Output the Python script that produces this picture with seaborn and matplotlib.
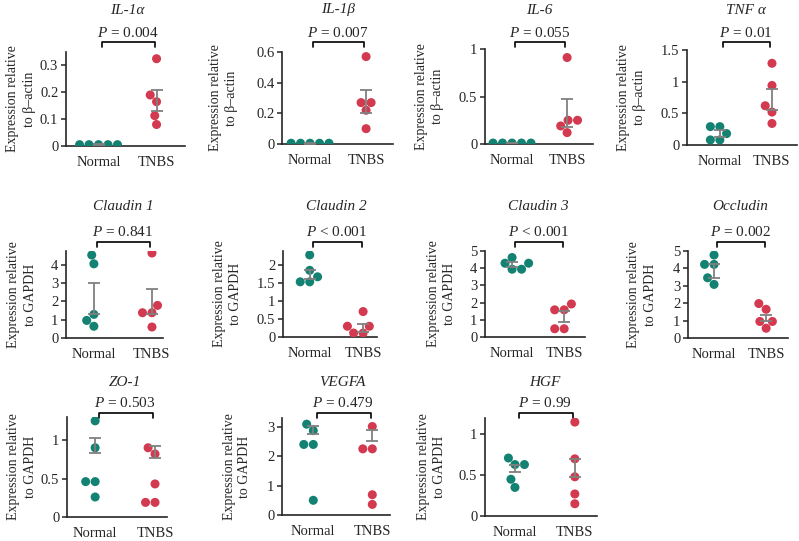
import matplotlib
matplotlib.use("Agg")
import matplotlib.pyplot as plt
import matplotlib.transforms as mtransforms
import pandas as pd
import seaborn as sns

# ---------------- data ----------------
groups = ["Normal", "TNBS"]

il1a_normal = [0.005, 0.005, 0.005, 0.005, 0.005]
il1a_tnbs = [0.325, 0.19, 0.165, 0.113, 0.08]
il1a_err = [(0.003, 0.007), (0.13, 0.21)]

il1b_normal = [0.005, 0.005, 0.005, 0.005, 0.005]
il1b_tnbs = [0.57, 0.27, 0.27, 0.22, 0.10]
il1b_err = [(0.003, 0.008), (0.20, 0.35)]

il6_normal = [0.01, 0.01, 0.01, 0.01, 0.01]
il6_tnbs = [0.91, 0.25, 0.25, 0.19, 0.12]
il6_err = [(0.008, 0.012), (0.18, 0.47)]

tnfa_normal = [0.29, 0.29, 0.18, 0.08, 0.08]
tnfa_tnbs = [1.29, 0.94, 0.62, 0.52, 0.34]
tnfa_err = [(0.13, 0.23), (0.56, 0.89)]

cldn1_normal = [4.53, 4.05, 1.29, 0.96, 0.64]
cldn1_tnbs = [4.64, 1.78, 1.38, 1.38, 0.60]
cldn1_err = [(1.30, 3.03), (1.30, 2.65)]

cldn2_normal = [2.29, 1.86, 1.68, 1.54, 1.54]
cldn2_tnbs = [0.71, 0.30, 0.30, 0.11, 0.11]
cldn2_err = [(1.63, 1.86), (0.15, 0.36)]

cldn3_normal = [4.62, 4.29, 4.29, 3.94, 3.94]
cldn3_tnbs = [1.92, 1.58, 1.58, 0.48, 0.48]
cldn3_err = [(4.05, 4.35), (0.90, 1.50)]

ocln_normal = [4.77, 4.23, 4.23, 3.46, 3.08]
ocln_tnbs = [1.98, 1.65, 0.95, 0.95, 0.56]
ocln_err = [(3.46, 4.23), (0.95, 1.33)]

zo1_normal = [1.25, 0.90, 0.46, 0.46, 0.26]
zo1_tnbs = [0.90, 0.82, 0.43, 0.19, 0.19]
zo1_err = [(0.83, 1.03), (0.77, 0.92)]

vegfa_normal = [3.09, 2.87, 2.40, 2.40, 0.50]
vegfa_tnbs = [3.01, 2.25, 2.25, 0.69, 0.36]
vegfa_err = [(2.75, 3.03), (2.53, 2.90)]

hgf_normal = [0.71, 0.63, 0.63, 0.45, 0.35]
hgf_tnbs = [1.15, 0.70, 0.48, 0.27, 0.15]
hgf_err = [(0.54, 0.63), (0.48, 0.70)]

actin = "Expression relative\nto β–actin"
gapdh = "Expression relative\nto GAPDH"

panels = [
    ("IL-1α", il1a_normal, il1a_tnbs, il1a_err, "$P$ = 0.004", actin, [0, 0.1, 0.2, 0.3], 0.35),
    ("IL-1β", il1b_normal, il1b_tnbs, il1b_err, "$P$ = 0.007", actin, [0, 0.2, 0.4, 0.6], 0.6),
    ("IL-6", il6_normal, il6_tnbs, il6_err, "$P$ = 0.055", actin, [0, 0.5, 1], 1.0),
    ("TNF α", tnfa_normal, tnfa_tnbs, tnfa_err, "$P$ = 0.01", actin, [0, 0.5, 1, 1.5], 1.5),
    ("Claudin 1", cldn1_normal, cldn1_tnbs, cldn1_err, "$P$ = 0.841", gapdh, [0, 1, 2, 3, 4], 4.75),
    ("Claudin 2", cldn2_normal, cldn2_tnbs, cldn2_err, "$P$ < 0.001", gapdh, [0, 0.5, 1, 1.5, 2], 2.4),
    ("Claudin 3", cldn3_normal, cldn3_tnbs, cldn3_err, "$P$ < 0.001", gapdh, [0, 1, 2, 3, 4, 5], 5),
    ("Occludin", ocln_normal, ocln_tnbs, ocln_err, "$P$ = 0.002", gapdh, [0, 1, 2, 3, 4, 5], 5),
    ("ZO-1", zo1_normal, zo1_tnbs, zo1_err, "$P$ = 0.503", gapdh, [0, 0.5, 1], 1.3),
    ("VEGFA", vegfa_normal, vegfa_tnbs, vegfa_err, "$P$ = 0.479", gapdh, [0, 1, 2, 3], 3.3),
    ("HGF", hgf_normal, hgf_tnbs, hgf_err, "$P$ = 0.99", gapdh, [0, 0.5, 1], 1.2),
]

# ---------------- layout (pixels) ----------------
W, H = 799, 541
# left, right, bottom, top, xmin, xmax, ylabel centre x
boxes = [
    (66, 185, 146, 52, -0.56, 1.49, 21),
    (282, 393, 144, 52, -0.50, 1.48, 224),
    (485, 593, 144, 49, -0.49, 1.47, 430),
    (687, 797, 145, 50, -0.63, 1.48, 632),
    (66, 163, 338, 251, -0.48, 1.19, 22),
    (283, 377, 337, 251, -0.50, 1.26, 228),
    (485, 585, 337, 251, -0.52, 1.40, 442),
    (688, 788, 338, 251, -0.50, 1.42, 642),
    (67, 167, 517, 417, -0.47, 1.20, 22),
    (282, 390, 515, 418, -0.53, 1.30, 237),
    (485, 597, 516, 418, -0.50, 1.37, 432),
]
# title y, P text y, bracket y, bracket tick end y (per row)
row_text = [(10, 33, 42, 47), (207, 232, 242, 247), (383, 403, 413, 418)]

palette = {"Normal": "#138272", "TNBS": "#d3394f"}

sns.set_style("ticks")
plt.rcParams["font.family"] = ["Liberation Serif", "DejaVu Serif"]
plt.rcParams["mathtext.fontset"] = "custom"
plt.rcParams["mathtext.it"] = "Liberation Serif:italic"
plt.rcParams["mathtext.rm"] = "Liberation Serif"

fig = plt.figure(figsize=(W / 100, H / 100), dpi=100)

for i, (name, normal, tnbs, err, ptxt, ylab, yticks, ymax) in enumerate(panels):
    left, right, bottom, top, x0, x1, ylx = boxes[i]
    ax = fig.add_axes([left / W, 1 - bottom / H, (right - left) / W, (bottom - top) / H])

    df = pd.DataFrame({
        "group": ["Normal"] * len(normal) + ["TNBS"] * len(tnbs),
        "value": normal + tnbs,
    })
    sns.swarmplot(data=df, x="group", y="value", hue="group", order=groups,
                  palette=palette, size=6.5, ax=ax, legend=False, zorder=3)

    for k, (lo, hi) in enumerate(err):
        ax.errorbar(k, (lo + hi) / 2, yerr=(hi - lo) / 2, fmt="none",
                    ecolor="#808080", elinewidth=1.3, capsize=4.3,
                    capthick=1.3, zorder=5)

    ax.set_xlim(x0, x1)
    ax.set_ylim(0, ymax)
    ax.set_yticks(yticks)
    ax.set_yticklabels([f"{v:g}" for v in yticks], fontsize=10.5)
    ax.set_xticks([0, 1])
    ax.set_xticklabels(groups, fontsize=10.5)
    ax.tick_params(axis="x", length=0, pad=7)
    ax.tick_params(axis="y", length=3.5, width=1.1, pad=2)
    ax.set_xlabel("")
    ax.set_ylabel(ylab, fontsize=10, va="center", ha="center", linespacing=1.3)
    ax.yaxis.set_label_coords((ylx - left) / (right - left), 0.5)
    sns.despine(ax=ax)
    for s in ("left", "bottom"):
        ax.spines[s].set_linewidth(1.2)

    ty, py, by, bt = row_text[i // 4]
    tr = mtransforms.blended_transform_factory(ax.transData, fig.transFigure)
    ax.text(0.5, 1 - ty / H, name, transform=tr, ha="center", va="center",
            fontsize=11, style="italic")
    ax.text(0.5, 1 - py / H, ptxt, transform=tr, ha="center", va="center",
            fontsize=11)
    ax.plot([0.06, 0.06, 0.97, 0.97],
            [1 - bt / H, 1 - by / H, 1 - by / H, 1 - bt / H],
            transform=tr, color="black", lw=1.2, clip_on=False)

fig.savefig("out.png", dpi=100)
